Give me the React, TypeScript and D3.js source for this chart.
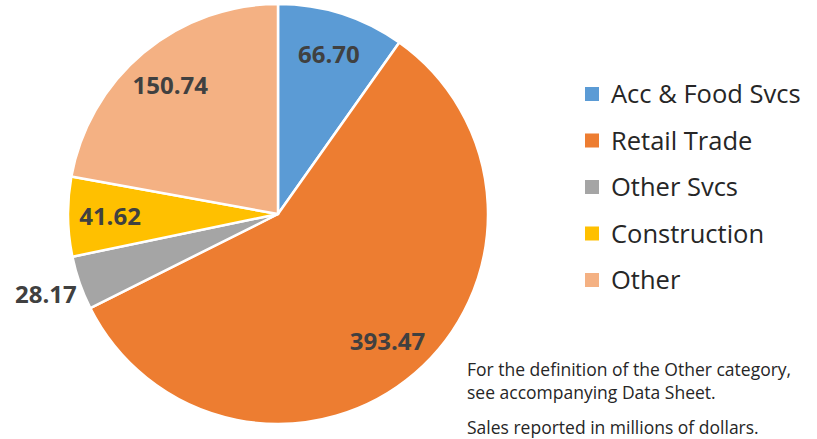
import React, { useEffect, useRef } from 'react';
import * as d3 from 'd3';

const categories = ['Acc & Food Svcs', 'Retail Trade', 'Other Svcs', 'Construction', 'Other'];
const sales = [66.70, 393.47, 28.17, 41.62, 150.74];
const colors = ['#5B9BD5', '#ED7D31', '#A5A5A5', '#FFC000', '#F4B183'];
const notes = [
  'For the definition of the Other category,',
  'see accompanying Data Sheet.',
  'Sales reported in millions of dollars.',
];

const FONT = '"Open Sans", "Liberation Sans", sans-serif';

const App: React.FC = () => {
  const ref = useRef<SVGSVGElement | null>(null);

  useEffect(() => {
    if (!ref.current) return;
    const width = 817;
    const height = 439;
    const cx = 278;
    const cy = 214;
    const radius = 210;

    const svg = d3.select(ref.current)
      .attr('width', width)
      .attr('height', height)
      .attr('viewBox', `0 0 ${width} ${height}`);
    svg.selectAll('*').remove();

    svg.append('rect').attr('width', width).attr('height', height).attr('fill', '#fff');

    const data = categories.map((name, i) => ({ name, value: sales[i], color: colors[i] }));
    const total = d3.sum(sales);

    const pie = d3.pie<{ name: string; value: number; color: string }>()
      .value(d => d.value)
      .sort(null);
    const arcs = pie(data);

    const arc = d3.arc<d3.PieArcDatum<{ name: string; value: number; color: string }>>()
      .innerRadius(0)
      .outerRadius(radius);

    const g = svg.append('g').attr('transform', `translate(${cx},${cy})`);

    g.selectAll('path')
      .data(arcs)
      .join('path')
      .attr('d', arc)
      .attr('fill', d => d.data.color)
      .attr('stroke', '#fff')
      .attr('stroke-width', 2.5)
      .attr('stroke-linejoin', 'round');

    // labels: inside for big slices, outside for small ones
    const inner = d3.arc<d3.PieArcDatum<{ name: string; value: number; color: string }>>()
      .innerRadius(radius * 0.8).outerRadius(radius * 0.8);
    const outer = d3.arc<d3.PieArcDatum<{ name: string; value: number; color: string }>>()
      .innerRadius(radius * 1.17).outerRadius(radius * 1.17);

    g.selectAll('text.val')
      .data(arcs)
      .join('text')
      .attr('class', 'val')
      .attr('transform', d => {
        const c = d.data.value / total < 0.05 ? outer.centroid(d) : inner.centroid(d);
        return `translate(${c[0]},${c[1]})`;
      })
      .attr('text-anchor', 'middle')
      .attr('dy', '0.36em')
      .attr('font-family', FONT)
      .attr('font-weight', 700)
      .attr('font-size', '24px')
      .attr('fill', '#404040')
      .text(d => d.data.value.toFixed(2));

    // legend
    const legend = svg.append('g').attr('transform', 'translate(585,94)');
    const row = legend.selectAll('g')
      .data(data)
      .join('g')
      .attr('transform', (_, i) => `translate(0,${i * 46.5})`);
    row.append('rect')
      .attr('x', 0).attr('y', -7)
      .attr('width', 14).attr('height', 14)
      .attr('fill', d => d.color);
    row.append('text')
      .attr('x', 26)
      .attr('dy', '0.36em')
      .attr('font-family', FONT)
      .attr('font-size', '25.5px')
      .attr('fill', '#262626')
      .text(d => d.name);

    // footnotes
    svg.append('g')
      .selectAll('text')
      .data(notes)
      .join('text')
      .attr('x', 467)
      .attr('y', (_, i) => [376, 399, 434][i])
      .attr('font-family', FONT)
      .attr('font-size', '17.5px')
      .attr('fill', '#262626')
      .text(d => d);
  }, []);

  return (
    <svg
      ref={ref}
      style={{ position: 'absolute', left: 0, top: 0, display: 'block' }}
    />
  );
};

export default App;
